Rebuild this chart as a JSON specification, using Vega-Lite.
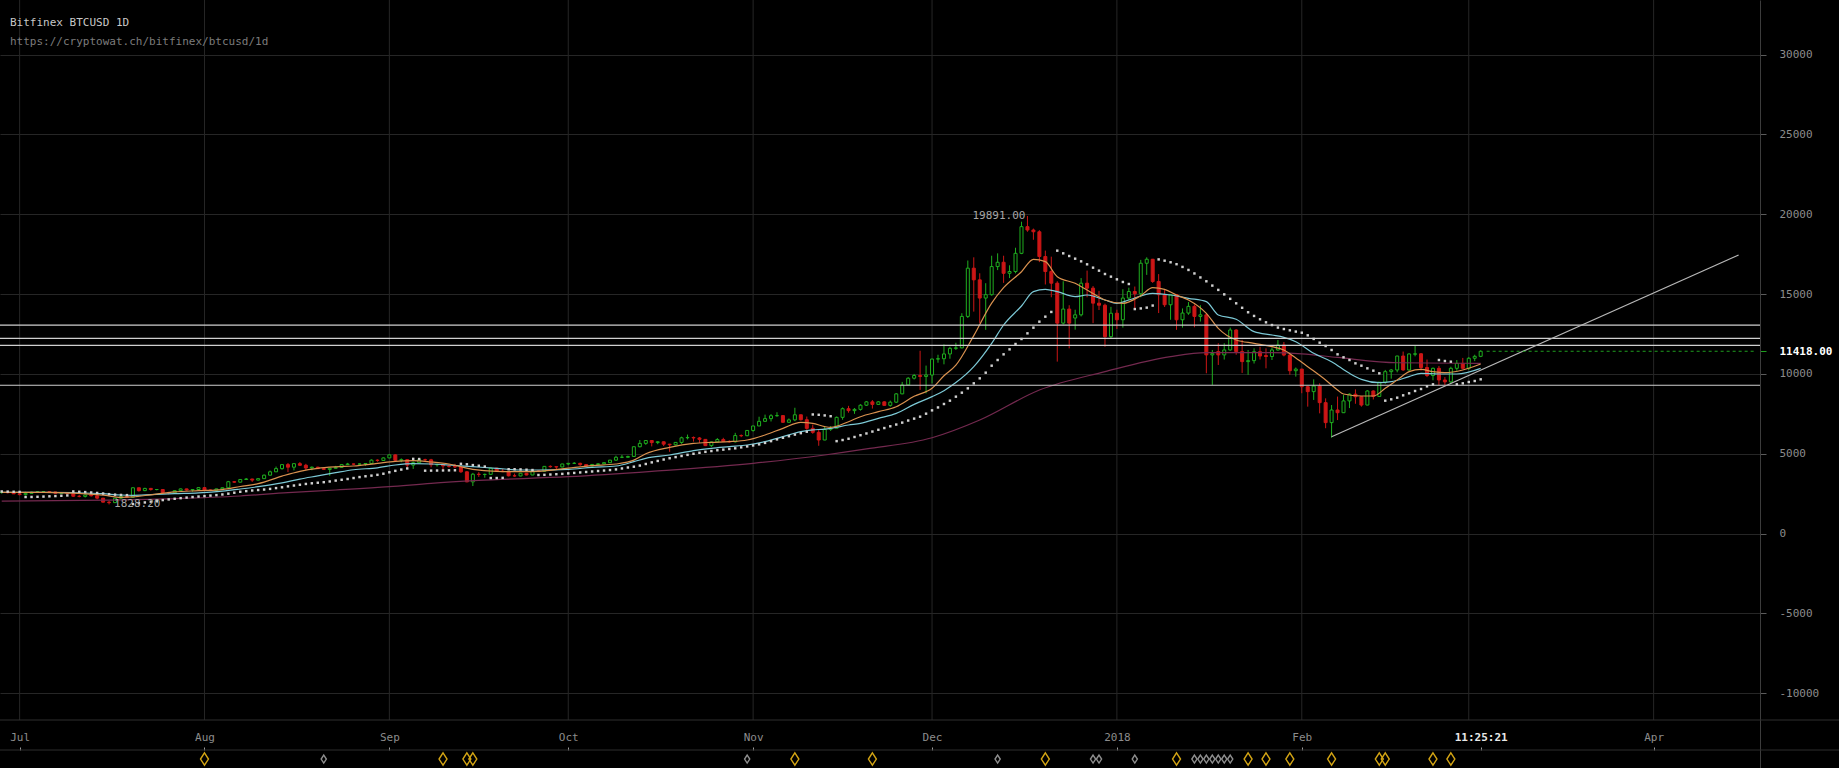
{
 "$schema": "https://vega.github.io/schema/vega-lite/v6.json",
 "width": 1760, "height": 768,
 "autosize": {"type": "none"},
 "padding": {"left": 0, "top": 0, "right": 79, "bottom": 0},
 "background": "#000000",
 "config": {"view": {"stroke": null}, "font": "DejaVu Sans Mono"},
 "title": {"text": "Bitfinex BTCUSD 1D", "subtitle": "https://cryptowat.ch/bitfinex/btcusd/1d", "anchor": "start", "frame": "group", "offset": -47, "dx": 10, "font": "DejaVu Sans Mono", "fontSize": 11, "fontWeight": "normal", "color": "#c8c8c8", "subtitleFont": "DejaVu Sans Mono", "subtitleFontSize": 11, "subtitleColor": "#7c7c7c", "subtitlePadding": 8},
 "datasets": {
  "months": [{"d":"2017-07-01"},{"d":"2017-08-01"},{"d":"2017-09-01"},{"d":"2017-10-01"},{"d":"2017-11-01"},{"d":"2017-12-01"},{"d":"2018-01-01"},{"d":"2018-02-01"},{"d":"2018-03-01"},{"d":"2018-04-01"}],
  "levels": [{"v":13050},{"v":12230},{"v":11790},{"v":9290}],
  "trend": [{"d":"2018-02-06","v":6068},{"d":"2018-04-15T06:00:00Z","v":17446}],
  "last": [{"d1":"2018-03-04","d2":"2018-04-18","v":11418}],
  "hi": [{"d":"2017-12-17","v":19891,"txt":"19891.00"}],
  "lo": [{"d":"2017-07-16","v":1828.2,"txt":"1828.20"}],
  "ev": [{"d":"2017-08-01","t":"y"},{"d":"2017-08-21","t":"g"},{"d":"2017-09-10","t":"y"},{"d":"2017-09-14","t":"y"},{"d":"2017-09-15","t":"y"},{"d":"2017-10-31","t":"g"},{"d":"2017-11-08","t":"y"},{"d":"2017-11-21","t":"y"},{"d":"2017-12-12","t":"g"},{"d":"2017-12-20","t":"y"},{"d":"2017-12-28","t":"g"},{"d":"2017-12-29","t":"g"},{"d":"2018-01-04","t":"g"},{"d":"2018-01-11","t":"y"},{"d":"2018-01-14","t":"g"},{"d":"2018-01-15","t":"g"},{"d":"2018-01-16","t":"g"},{"d":"2018-01-17","t":"g"},{"d":"2018-01-18","t":"g"},{"d":"2018-01-19","t":"g"},{"d":"2018-01-20","t":"g"},{"d":"2018-01-23","t":"y"},{"d":"2018-01-26","t":"y"},{"d":"2018-01-30","t":"y"},{"d":"2018-02-06","t":"y"},{"d":"2018-02-14","t":"y"},{"d":"2018-02-15","t":"y"},{"d":"2018-02-23","t":"y"},{"d":"2018-02-26","t":"y"}],
  "ma": [
   {"d":"2017-06-28","v":2040,"k":"m"},{"d":"2017-07-16","v":2100,"k":"m"},{"d":"2017-07-27","v":2187,"k":"m"},{"d":"2017-08-07","v":2354,"k":"m"},{"d":"2017-08-15","v":2563,"k":"m"},{"d":"2017-08-23","v":2730,"k":"m"},{"d":"2017-09-01","v":2938,"k":"m"},{"d":"2017-09-08","v":3150,"k":"m"},{"d":"2017-09-16","v":3330,"k":"m"},{"d":"2017-10-01","v":3564,"k":"m"},{"d":"2017-10-15","v":3900,"k":"m"},{"d":"2017-11-01","v":4400,"k":"m"},{"d":"2017-11-13","v":4922,"k":"m"},{"d":"2017-11-20","v":5300,"k":"m"},{"d":"2017-12-01","v":6000,"k":"m"},{"d":"2017-12-09","v":7110,"k":"m"},{"d":"2017-12-19","v":8990,"k":"m"},{"d":"2017-12-30","v":10140,"k":"m"},{"d":"2018-01-10","v":11080,"k":"m"},{"d":"2018-01-16","v":11330,"k":"m"},{"d":"2018-01-27","v":11330,"k":"m"},{"d":"2018-02-01","v":11260,"k":"m"},{"d":"2018-02-07","v":11030,"k":"m"},{"d":"2018-02-17","v":10700,"k":"m"},{"d":"2018-03-03","v":10663,"k":"m"},
   {"d":"2017-06-28","v":2585,"k":"c"},{"d":"2017-07-05","v":2585,"k":"c"},{"d":"2017-07-10","v":2563,"k":"c"},{"d":"2017-07-15","v":2500,"k":"c"},{"d":"2017-07-18","v":2417,"k":"c"},{"d":"2017-07-20","v":2400,"k":"c"},{"d":"2017-07-23","v":2440,"k":"c"},{"d":"2017-07-27","v":2500,"k":"c"},{"d":"2017-07-31","v":2550,"k":"c"},{"d":"2017-08-04","v":2660,"k":"c"},{"d":"2017-08-07","v":2792,"k":"c"},{"d":"2017-08-10","v":2938,"k":"c"},{"d":"2017-08-14","v":3176,"k":"c"},{"d":"2017-08-17","v":3415,"k":"c"},{"d":"2017-08-20","v":3613,"k":"c"},{"d":"2017-08-23","v":3814,"k":"c"},{"d":"2017-08-26","v":3999,"k":"c"},{"d":"2017-08-30","v":4120,"k":"c"},{"d":"2017-09-02","v":4296,"k":"c"},{"d":"2017-09-05","v":4379,"k":"c"},{"d":"2017-09-08","v":4358,"k":"c"},{"d":"2017-09-11","v":4296,"k":"c"},{"d":"2017-09-15","v":4191,"k":"c"},{"d":"2017-09-19","v":4087,"k":"c"},{"d":"2017-09-23","v":3982,"k":"c"},{"d":"2017-09-26","v":3982,"k":"c"},{"d":"2017-10-01","v":4024,"k":"c"},{"d":"2017-10-05","v":4149,"k":"c"},{"d":"2017-10-09","v":4233,"k":"c"},{"d":"2017-10-12","v":4504,"k":"c"},{"d":"2017-10-14","v":4713,"k":"c"},{"d":"2017-10-18","v":4922,"k":"c"},{"d":"2017-10-22","v":5193,"k":"c"},{"d":"2017-10-25","v":5340,"k":"c"},{"d":"2017-10-28","v":5445,"k":"c"},{"d":"2017-10-31","v":5549,"k":"c"},{"d":"2017-11-03","v":5758,"k":"c"},{"d":"2017-11-06","v":6071,"k":"c"},{"d":"2017-11-09","v":6384,"k":"c"},{"d":"2017-11-11","v":6500,"k":"c"},{"d":"2017-11-13","v":6540,"k":"c"},{"d":"2017-11-14","v":6590,"k":"c"},{"d":"2017-11-17","v":6799,"k":"c"},{"d":"2017-11-19","v":6904,"k":"c"},{"d":"2017-11-22","v":7217,"k":"c"},{"d":"2017-11-25","v":7530,"k":"c"},{"d":"2017-11-28","v":8094,"k":"c"},{"d":"2017-12-01","v":8575,"k":"c"},{"d":"2017-12-03","v":8950,"k":"c"},{"d":"2017-12-05","v":9457,"k":"c"},{"d":"2017-12-08","v":10458,"k":"c"},{"d":"2017-12-11","v":11915,"k":"c"},{"d":"2017-12-13","v":13063,"k":"c"},{"d":"2017-12-16","v":14253,"k":"c"},{"d":"2017-12-18","v":15150,"k":"c"},{"d":"2017-12-20","v":15296,"k":"c"},{"d":"2017-12-22","v":15150,"k":"c"},{"d":"2017-12-25","v":14837,"k":"c"},{"d":"2017-12-27","v":14941,"k":"c"},{"d":"2017-12-30","v":14628,"k":"c"},{"d":"2018-01-01","v":14420,"k":"c"},{"d":"2018-01-03","v":14628,"k":"c"},{"d":"2018-01-07","v":15045,"k":"c"},{"d":"2018-01-10","v":14941,"k":"c"},{"d":"2018-01-13","v":14733,"k":"c"},{"d":"2018-01-16","v":14524,"k":"c"},{"d":"2018-01-18","v":13689,"k":"c"},{"d":"2018-01-21","v":13418,"k":"c"},{"d":"2018-01-24","v":12645,"k":"c"},{"d":"2018-01-27","v":12436,"k":"c"},{"d":"2018-01-29","v":12290,"k":"c"},{"d":"2018-01-31","v":12018,"k":"c"},{"d":"2018-02-03","v":11288,"k":"c"},{"d":"2018-02-06","v":10766,"k":"c"},{"d":"2018-02-09","v":10035,"k":"c"},{"d":"2018-02-11","v":9660,"k":"c"},{"d":"2018-02-14","v":9452,"k":"c"},{"d":"2018-02-16","v":9515,"k":"c"},{"d":"2018-02-19","v":9828,"k":"c"},{"d":"2018-02-21","v":10035,"k":"c"},{"d":"2018-02-24","v":9994,"k":"c"},{"d":"2018-02-27","v":9994,"k":"c"},{"d":"2018-03-03","v":10349,"k":"c"},
   {"d":"2017-06-28","v":2585,"k":"o"},{"d":"2017-07-05","v":2585,"k":"o"},{"d":"2017-07-10","v":2540,"k":"o"},{"d":"2017-07-15","v":2410,"k":"o"},{"d":"2017-07-18","v":2270,"k":"o"},{"d":"2017-07-20","v":2300,"k":"o"},{"d":"2017-07-23","v":2430,"k":"o"},{"d":"2017-07-27","v":2610,"k":"o"},{"d":"2017-07-31","v":2688,"k":"o"},{"d":"2017-08-04","v":2760,"k":"o"},{"d":"2017-08-07","v":2950,"k":"o"},{"d":"2017-08-10","v":3130,"k":"o"},{"d":"2017-08-14","v":3600,"k":"o"},{"d":"2017-08-17","v":3900,"k":"o"},{"d":"2017-08-20","v":4087,"k":"o"},{"d":"2017-08-23","v":4180,"k":"o"},{"d":"2017-08-26","v":4233,"k":"o"},{"d":"2017-08-30","v":4400,"k":"o"},{"d":"2017-09-02","v":4525,"k":"o"},{"d":"2017-09-05","v":4566,"k":"o"},{"d":"2017-09-08","v":4483,"k":"o"},{"d":"2017-09-11","v":4358,"k":"o"},{"d":"2017-09-15","v":4024,"k":"o"},{"d":"2017-09-19","v":3900,"k":"o"},{"d":"2017-09-23","v":3880,"k":"o"},{"d":"2017-09-26","v":3900,"k":"o"},{"d":"2017-10-01","v":4100,"k":"o"},{"d":"2017-10-05","v":4254,"k":"o"},{"d":"2017-10-09","v":4358,"k":"o"},{"d":"2017-10-12","v":4600,"k":"o"},{"d":"2017-10-14","v":5000,"k":"o"},{"d":"2017-10-18","v":5400,"k":"o"},{"d":"2017-10-22","v":5650,"k":"o"},{"d":"2017-10-25","v":5716,"k":"o"},{"d":"2017-10-28","v":5758,"k":"o"},{"d":"2017-10-31","v":5862,"k":"o"},{"d":"2017-11-03","v":6175,"k":"o"},{"d":"2017-11-06","v":6593,"k":"o"},{"d":"2017-11-09","v":6960,"k":"o"},{"d":"2017-11-11","v":6904,"k":"o"},{"d":"2017-11-13","v":6700,"k":"o"},{"d":"2017-11-14","v":6652,"k":"o"},{"d":"2017-11-17","v":7008,"k":"o"},{"d":"2017-11-19","v":7321,"k":"o"},{"d":"2017-11-22","v":7634,"k":"o"},{"d":"2017-11-25","v":7947,"k":"o"},{"d":"2017-11-28","v":8600,"k":"o"},{"d":"2017-12-01","v":9100,"k":"o"},{"d":"2017-12-03","v":9884,"k":"o"},{"d":"2017-12-05","v":10550,"k":"o"},{"d":"2017-12-08","v":12400,"k":"o"},{"d":"2017-12-11","v":14430,"k":"o"},{"d":"2017-12-13","v":15400,"k":"o"},{"d":"2017-12-16","v":16400,"k":"o"},{"d":"2017-12-18","v":17175,"k":"o"},{"d":"2017-12-20","v":17029,"k":"o"},{"d":"2017-12-22","v":16090,"k":"o"},{"d":"2017-12-25","v":15672,"k":"o"},{"d":"2017-12-27","v":15254,"k":"o"},{"d":"2017-12-30","v":14628,"k":"o"},{"d":"2018-01-02","v":14420,"k":"o"},{"d":"2018-01-05","v":14900,"k":"o"},{"d":"2018-01-07","v":15400,"k":"o"},{"d":"2018-01-09","v":15296,"k":"o"},{"d":"2018-01-11","v":14941,"k":"o"},{"d":"2018-01-13","v":14628,"k":"o"},{"d":"2018-01-16","v":13793,"k":"o"},{"d":"2018-01-18","v":12854,"k":"o"},{"d":"2018-01-21","v":12123,"k":"o"},{"d":"2018-01-24","v":11915,"k":"o"},{"d":"2018-01-27","v":11706,"k":"o"},{"d":"2018-01-29","v":11497,"k":"o"},{"d":"2018-01-31","v":11000,"k":"o"},{"d":"2018-02-02","v":10453,"k":"o"},{"d":"2018-02-05","v":9618,"k":"o"},{"d":"2018-02-07","v":8992,"k":"o"},{"d":"2018-02-08","v":8742,"k":"o"},{"d":"2018-02-11","v":8616,"k":"o"},{"d":"2018-02-13","v":8616,"k":"o"},{"d":"2018-02-15","v":9097,"k":"o"},{"d":"2018-02-17","v":9618,"k":"o"},{"d":"2018-02-19","v":10140,"k":"o"},{"d":"2018-02-21","v":10286,"k":"o"},{"d":"2018-02-23","v":10140,"k":"o"},{"d":"2018-02-25","v":10077,"k":"o"},{"d":"2018-02-28","v":10244,"k":"o"},{"d":"2018-03-03","v":10620,"k":"o"}
  ],
  "k": [
   {"d":"2017-06-28","o":2580,"h":2610,"l":2500,"c":2590,"s":2640},
   {"d":"2017-06-29","o":2590,"h":2600,"l":2520,"c":2560,"s":2630},
   {"d":"2017-06-30","o":2560,"h":2570,"l":2480,"c":2490,"s":2620},
   {"d":"2017-07-01","o":2490,"h":2530,"l":2400,"c":2440,"s":2610},
   {"d":"2017-07-02","o":2440,"h":2620,"l":2390,"c":2520,"s":2290},
   {"d":"2017-07-03","o":2520,"h":2620,"l":2510,"c":2590,"s":2295},
   {"d":"2017-07-04","o":2590,"h":2660,"l":2580,"c":2620,"s":2305},
   {"d":"2017-07-05","o":2620,"h":2650,"l":2550,"c":2630,"s":2320},
   {"d":"2017-07-06","o":2630,"h":2640,"l":2590,"c":2610,"s":2335},
   {"d":"2017-07-07","o":2610,"h":2620,"l":2500,"c":2520,"s":2350},
   {"d":"2017-07-08","o":2520,"h":2580,"l":2480,"c":2570,"s":2370},
   {"d":"2017-07-09","o":2570,"h":2590,"l":2500,"c":2510,"s":2390},
   {"d":"2017-07-10","o":2510,"h":2530,"l":2300,"c":2340,"s":2640},
   {"d":"2017-07-11","o":2340,"h":2420,"l":2270,"c":2330,"s":2620},
   {"d":"2017-07-12","o":2330,"h":2430,"l":2260,"c":2420,"s":2600},
   {"d":"2017-07-13","o":2420,"h":2430,"l":2320,"c":2370,"s":2575},
   {"d":"2017-07-14","o":2370,"h":2380,"l":2150,"c":2220,"s":2545},
   {"d":"2017-07-15","o":2220,"h":2230,"l":1950,"c":1970,"s":2510},
   {"d":"2017-07-16","o":1970,"h":2060,"l":1828.2,"c":1940,"s":2470},
   {"d":"2017-07-17","o":1940,"h":2230,"l":1930,"c":2220,"s":2440},
   {"d":"2017-07-18","o":2220,"h":2400,"l":2150,"c":2330,"s":2420},
   {"d":"2017-07-19","o":2330,"h":2400,"l":2260,"c":2280,"s":2410},
   {"d":"2017-07-20","o":2280,"h":2900,"l":2270,"c":2870,"s":1850},
   {"d":"2017-07-21","o":2870,"h":2880,"l":2630,"c":2690,"s":1900},
   {"d":"2017-07-22","o":2690,"h":2870,"l":2660,"c":2830,"s":1950},
   {"d":"2017-07-23","o":2830,"h":2860,"l":2690,"c":2760,"s":2000},
   {"d":"2017-07-24","o":2760,"h":2790,"l":2710,"c":2760,"s":2050},
   {"d":"2017-07-25","o":2760,"h":2780,"l":2480,"c":2570,"s":2100},
   {"d":"2017-07-26","o":2570,"h":2620,"l":2460,"c":2550,"s":2140},
   {"d":"2017-07-27","o":2550,"h":2700,"l":2520,"c":2690,"s":2180},
   {"d":"2017-07-28","o":2690,"h":2820,"l":2670,"c":2800,"s":2220},
   {"d":"2017-07-29","o":2800,"h":2810,"l":2690,"c":2730,"s":2255},
   {"d":"2017-07-30","o":2730,"h":2770,"l":2620,"c":2760,"s":2290},
   {"d":"2017-07-31","o":2760,"h":2900,"l":2750,"c":2880,"s":2320},
   {"d":"2017-08-01","o":2880,"h":2920,"l":2690,"c":2730,"s":2350},
   {"d":"2017-08-02","o":2730,"h":2760,"l":2660,"c":2710,"s":2380},
   {"d":"2017-08-03","o":2710,"h":2810,"l":2700,"c":2800,"s":2410},
   {"d":"2017-08-04","o":2800,"h":2890,"l":2780,"c":2870,"s":2450},
   {"d":"2017-08-05","o":2870,"h":3300,"l":2860,"c":3250,"s":2500},
   {"d":"2017-08-06","o":3250,"h":3290,"l":3180,"c":3220,"s":2560},
   {"d":"2017-08-07","o":3220,"h":3420,"l":3200,"c":3390,"s":2620},
   {"d":"2017-08-08","o":3390,"h":3480,"l":3360,"c":3420,"s":2660},
   {"d":"2017-08-09","o":3420,"h":3430,"l":3240,"c":3350,"s":2700},
   {"d":"2017-08-10","o":3350,"h":3450,"l":3330,"c":3440,"s":2730},
   {"d":"2017-08-11","o":3440,"h":3700,"l":3430,"c":3660,"s":2760},
   {"d":"2017-08-12","o":3660,"h":3950,"l":3640,"c":3870,"s":2800},
   {"d":"2017-08-13","o":3870,"h":4200,"l":3860,"c":4070,"s":2850},
   {"d":"2017-08-14","o":4070,"h":4340,"l":4000,"c":4320,"s":2900},
   {"d":"2017-08-15","o":4320,"h":4420,"l":3850,"c":4160,"s":2960},
   {"d":"2017-08-16","o":4160,"h":4400,"l":3960,"c":4380,"s":3010},
   {"d":"2017-08-17","o":4380,"h":4480,"l":4240,"c":4280,"s":3060},
   {"d":"2017-08-18","o":4280,"h":4370,"l":3980,"c":4110,"s":3110},
   {"d":"2017-08-19","o":4110,"h":4200,"l":3970,"c":4160,"s":3150},
   {"d":"2017-08-20","o":4160,"h":4190,"l":4040,"c":4070,"s":3185},
   {"d":"2017-08-21","o":4070,"h":4100,"l":3980,"c":4020,"s":3220},
   {"d":"2017-08-22","o":4020,"h":4130,"l":3620,"c":4090,"s":3265},
   {"d":"2017-08-23","o":4090,"h":4240,"l":4080,"c":4150,"s":3320},
   {"d":"2017-08-24","o":4150,"h":4350,"l":4110,"c":4320,"s":3370},
   {"d":"2017-08-25","o":4320,"h":4430,"l":4300,"c":4360,"s":3420},
   {"d":"2017-08-26","o":4360,"h":4380,"l":4290,"c":4350,"s":3480},
   {"d":"2017-08-27","o":4350,"h":4390,"l":4330,"c":4360,"s":3540},
   {"d":"2017-08-28","o":4360,"h":4400,"l":4250,"c":4390,"s":3590},
   {"d":"2017-08-29","o":4390,"h":4650,"l":4350,"c":4600,"s":3630},
   {"d":"2017-08-30","o":4600,"h":4650,"l":4500,"c":4580,"s":3680},
   {"d":"2017-08-31","o":4580,"h":4770,"l":4570,"c":4740,"s":3750},
   {"d":"2017-09-01","o":4740,"h":4960,"l":4730,"c":4930,"s":3840},
   {"d":"2017-09-02","o":4930,"h":4960,"l":4520,"c":4590,"s":3930},
   {"d":"2017-09-03","o":4590,"h":4710,"l":4470,"c":4630,"s":4010},
   {"d":"2017-09-04","o":4630,"h":4640,"l":4130,"c":4290,"s":4080},
   {"d":"2017-09-05","o":4290,"h":4520,"l":4050,"c":4440,"s":4680},
   {"d":"2017-09-06","o":4440,"h":4680,"l":4430,"c":4630,"s":4670},
   {"d":"2017-09-07","o":4630,"h":4690,"l":4530,"c":4620,"s":3940},
   {"d":"2017-09-08","o":4620,"h":4680,"l":4150,"c":4310,"s":3945},
   {"d":"2017-09-09","o":4310,"h":4370,"l":4200,"c":4330,"s":3950},
   {"d":"2017-09-10","o":4330,"h":4350,"l":4000,"c":4240,"s":3955},
   {"d":"2017-09-11","o":4240,"h":4330,"l":4130,"c":4210,"s":3960},
   {"d":"2017-09-12","o":4210,"h":4370,"l":4100,"c":4170,"s":3965},
   {"d":"2017-09-13","o":4170,"h":4180,"l":3800,"c":3870,"s":4370},
   {"d":"2017-09-14","o":3870,"h":3910,"l":3220,"c":3240,"s":4340},
   {"d":"2017-09-15","o":3240,"h":3800,"l":2980,"c":3720,"s":4290},
   {"d":"2017-09-16","o":3720,"h":3850,"l":3550,"c":3700,"s":4250},
   {"d":"2017-09-17","o":3700,"h":3760,"l":3500,"c":3710,"s":4200},
   {"d":"2017-09-18","o":3710,"h":4120,"l":3700,"c":4100,"s":3480},
   {"d":"2017-09-19","o":4100,"h":4120,"l":3860,"c":3910,"s":3480},
   {"d":"2017-09-20","o":3910,"h":4050,"l":3850,"c":3880,"s":3490},
   {"d":"2017-09-21","o":3880,"h":3890,"l":3580,"c":3620,"s":4030},
   {"d":"2017-09-22","o":3620,"h":3760,"l":3560,"c":3610,"s":4030},
   {"d":"2017-09-23","o":3610,"h":3800,"l":3590,"c":3780,"s":4020},
   {"d":"2017-09-24","o":3780,"h":3790,"l":3650,"c":3670,"s":4000},
   {"d":"2017-09-25","o":3670,"h":3950,"l":3660,"c":3930,"s":3980},
   {"d":"2017-09-26","o":3930,"h":3970,"l":3860,"c":3900,"s":3670},
   {"d":"2017-09-27","o":3900,"h":4230,"l":3890,"c":4210,"s":3680},
   {"d":"2017-09-28","o":4210,"h":4270,"l":4130,"c":4190,"s":3700},
   {"d":"2017-09-29","o":4190,"h":4210,"l":4040,"c":4170,"s":3720},
   {"d":"2017-09-30","o":4170,"h":4370,"l":4160,"c":4360,"s":3740},
   {"d":"2017-10-01","o":4360,"h":4410,"l":4280,"c":4400,"s":3770},
   {"d":"2017-10-02","o":4400,"h":4480,"l":4360,"c":4400,"s":3800},
   {"d":"2017-10-03","o":4400,"h":4440,"l":4240,"c":4320,"s":3830},
   {"d":"2017-10-04","o":4320,"h":4340,"l":4200,"c":4230,"s":3860},
   {"d":"2017-10-05","o":4230,"h":4360,"l":4210,"c":4330,"s":3890},
   {"d":"2017-10-06","o":4330,"h":4420,"l":4320,"c":4370,"s":3920},
   {"d":"2017-10-07","o":4370,"h":4470,"l":4340,"c":4440,"s":3950},
   {"d":"2017-10-08","o":4440,"h":4620,"l":4430,"c":4600,"s":3980},
   {"d":"2017-10-09","o":4600,"h":4880,"l":4560,"c":4780,"s":4020},
   {"d":"2017-10-10","o":4780,"h":4930,"l":4730,"c":4780,"s":4080},
   {"d":"2017-10-11","o":4780,"h":4880,"l":4740,"c":4830,"s":4140},
   {"d":"2017-10-12","o":4830,"h":5450,"l":4820,"c":5440,"s":4190},
   {"d":"2017-10-13","o":5440,"h":5860,"l":5400,"c":5650,"s":4260},
   {"d":"2017-10-14","o":5650,"h":5850,"l":5560,"c":5830,"s":4360},
   {"d":"2017-10-15","o":5830,"h":5860,"l":5460,"c":5700,"s":4460},
   {"d":"2017-10-16","o":5700,"h":5790,"l":5600,"c":5750,"s":4550},
   {"d":"2017-10-17","o":5750,"h":5770,"l":5480,"c":5600,"s":4640},
   {"d":"2017-10-18","o":5600,"h":5620,"l":5120,"c":5560,"s":4720},
   {"d":"2017-10-19","o":5560,"h":5730,"l":5520,"c":5710,"s":4790},
   {"d":"2017-10-20","o":5710,"h":6070,"l":5620,"c":6000,"s":4860},
   {"d":"2017-10-21","o":6000,"h":6200,"l":5900,"c":6020,"s":4930},
   {"d":"2017-10-22","o":6020,"h":6080,"l":5760,"c":5990,"s":5000},
   {"d":"2017-10-23","o":5990,"h":6050,"l":5680,"c":5900,"s":5060},
   {"d":"2017-10-24","o":5900,"h":5910,"l":5480,"c":5510,"s":5120},
   {"d":"2017-10-25","o":5510,"h":5760,"l":5420,"c":5740,"s":5170},
   {"d":"2017-10-26","o":5740,"h":5980,"l":5710,"c":5890,"s":5220},
   {"d":"2017-10-27","o":5890,"h":6000,"l":5740,"c":5770,"s":5260},
   {"d":"2017-10-28","o":5770,"h":5850,"l":5690,"c":5750,"s":5300},
   {"d":"2017-10-29","o":5750,"h":6310,"l":5700,"c":6140,"s":5340},
   {"d":"2017-10-30","o":6140,"h":6210,"l":6040,"c":6130,"s":5400},
   {"d":"2017-10-31","o":6130,"h":6470,"l":6100,"c":6460,"s":5460},
   {"d":"2017-11-01","o":6460,"h":6750,"l":6380,"c":6740,"s":5520},
   {"d":"2017-11-02","o":6740,"h":7320,"l":6740,"c":7030,"s":5590},
   {"d":"2017-11-03","o":7030,"h":7450,"l":7000,"c":7200,"s":5680},
   {"d":"2017-11-04","o":7200,"h":7480,"l":7020,"c":7380,"s":5790},
   {"d":"2017-11-05","o":7380,"h":7600,"l":7320,"c":7390,"s":5900},
   {"d":"2017-11-06","o":7390,"h":7400,"l":6950,"c":6970,"s":6000},
   {"d":"2017-11-07","o":6970,"h":7210,"l":6950,"c":7120,"s":6100},
   {"d":"2017-11-08","o":7120,"h":7880,"l":7040,"c":7440,"s":6200},
   {"d":"2017-11-09","o":7440,"h":7450,"l":7080,"c":7130,"s":6290},
   {"d":"2017-11-10","o":7130,"h":7330,"l":6500,"c":6590,"s":6380},
   {"d":"2017-11-11","o":6590,"h":6830,"l":6250,"c":6340,"s":7460},
   {"d":"2017-11-12","o":6340,"h":6500,"l":5500,"c":5860,"s":7440},
   {"d":"2017-11-13","o":5860,"h":6720,"l":5850,"c":6530,"s":7400},
   {"d":"2017-11-14","o":6530,"h":6730,"l":6430,"c":6600,"s":7350},
   {"d":"2017-11-15","o":6600,"h":7330,"l":6600,"c":7280,"s":5790},
   {"d":"2017-11-16","o":7280,"h":7900,"l":7130,"c":7820,"s":5860},
   {"d":"2017-11-17","o":7820,"h":8000,"l":7570,"c":7700,"s":5940},
   {"d":"2017-11-18","o":7700,"h":7860,"l":7500,"c":7780,"s":6050},
   {"d":"2017-11-19","o":7780,"h":8100,"l":7700,"c":8040,"s":6160},
   {"d":"2017-11-20","o":8040,"h":8300,"l":7990,"c":8250,"s":6270},
   {"d":"2017-11-21","o":8250,"h":8360,"l":7830,"c":8090,"s":6390},
   {"d":"2017-11-22","o":8090,"h":8300,"l":8090,"c":8250,"s":6500},
   {"d":"2017-11-23","o":8250,"h":8280,"l":8000,"c":8030,"s":6610},
   {"d":"2017-11-24","o":8030,"h":8330,"l":7950,"c":8230,"s":6720},
   {"d":"2017-11-25","o":8230,"h":8800,"l":8180,"c":8750,"s":6830},
   {"d":"2017-11-26","o":8750,"h":9500,"l":8730,"c":9310,"s":6950},
   {"d":"2017-11-27","o":9310,"h":9800,"l":9310,"c":9730,"s":7080},
   {"d":"2017-11-28","o":9730,"h":10000,"l":9650,"c":9900,"s":7200},
   {"d":"2017-11-29","o":9900,"h":11450,"l":9000,"c":9840,"s":7321},
   {"d":"2017-11-30","o":9840,"h":10520,"l":8780,"c":9930,"s":7509},
   {"d":"2017-12-01","o":9930,"h":10950,"l":9400,"c":10930,"s":7717},
   {"d":"2017-12-02","o":10930,"h":11200,"l":10700,"c":10950,"s":7900},
   {"d":"2017-12-03","o":10950,"h":11850,"l":10600,"c":11250,"s":8116},
   {"d":"2017-12-04","o":11250,"h":11700,"l":10950,"c":11600,"s":8324},
   {"d":"2017-12-05","o":11600,"h":11950,"l":11500,"c":11630,"s":8575},
   {"d":"2017-12-06","o":11630,"h":13800,"l":11600,"c":13600,"s":8825},
   {"d":"2017-12-07","o":13600,"h":17100,"l":13500,"c":16620,"s":9096},
   {"d":"2017-12-08","o":16620,"h":17300,"l":13900,"c":15890,"s":9409},
   {"d":"2017-12-09","o":15890,"h":16300,"l":13180,"c":14750,"s":9722},
   {"d":"2017-12-10","o":14750,"h":15680,"l":12760,"c":14960,"s":10077},
   {"d":"2017-12-11","o":14960,"h":17400,"l":14900,"c":16720,"s":10515},
   {"d":"2017-12-12","o":16720,"h":17550,"l":16500,"c":16990,"s":10870},
   {"d":"2017-12-13","o":16990,"h":17400,"l":15700,"c":16300,"s":11225},
   {"d":"2017-12-14","o":16300,"h":16800,"l":16000,"c":16410,"s":11538},
   {"d":"2017-12-15","o":16410,"h":17900,"l":16300,"c":17550,"s":11872},
   {"d":"2017-12-16","o":17550,"h":19530,"l":17500,"c":19220,"s":12185},
   {"d":"2017-12-17","o":19220,"h":19891,"l":18900,"c":19010,"s":12540},
   {"d":"2017-12-18","o":19010,"h":19100,"l":18400,"c":18900,"s":12895},
   {"d":"2017-12-19","o":18900,"h":19000,"l":17000,"c":17350,"s":13270},
   {"d":"2017-12-20","o":17350,"h":17720,"l":15600,"c":16410,"s":13584},
   {"d":"2017-12-21","o":16410,"h":17340,"l":14800,"c":15680,"s":13880},
   {"d":"2017-12-22","o":15680,"h":15800,"l":10770,"c":13180,"s":17717},
   {"d":"2017-12-23","o":13180,"h":15800,"l":13100,"c":14060,"s":17550},
   {"d":"2017-12-24","o":14060,"h":14300,"l":11600,"c":13180,"s":17383},
   {"d":"2017-12-25","o":13500,"h":14020,"l":12770,"c":13700,"s":17216},
   {"d":"2017-12-26","o":13700,"h":16000,"l":13600,"c":15680,"s":17049},
   {"d":"2017-12-27","o":15680,"h":16470,"l":14800,"c":15370,"s":16862},
   {"d":"2017-12-28","o":15370,"h":15500,"l":13180,"c":14430,"s":16653},
   {"d":"2017-12-29","o":14430,"h":15200,"l":14000,"c":14300,"s":16465},
   {"d":"2017-12-30","o":14300,"h":14400,"l":11700,"c":12330,"s":16256},
   {"d":"2017-12-31","o":12330,"h":14200,"l":12200,"c":13800,"s":16090},
   {"d":"2018-01-01","o":13800,"h":14020,"l":12810,"c":13390,"s":15922},
   {"d":"2018-01-02","o":13390,"h":15300,"l":12900,"c":14750,"s":15756},
   {"d":"2018-01-03","o":14750,"h":15400,"l":14600,"c":15160,"s":15630},
   {"d":"2018-01-04","o":15160,"h":15470,"l":14120,"c":15020,"s":14060},
   {"d":"2018-01-05","o":15020,"h":17140,"l":14800,"c":16930,"s":14100},
   {"d":"2018-01-06","o":16930,"h":17300,"l":16200,"c":17180,"s":14150},
   {"d":"2018-01-07","o":17180,"h":17200,"l":15700,"c":15790,"s":14280},
   {"d":"2018-01-08","o":15790,"h":16250,"l":13810,"c":14960,"s":17170},
   {"d":"2018-01-09","o":14960,"h":15300,"l":14190,"c":14330,"s":17090},
   {"d":"2018-01-10","o":14330,"h":14960,"l":13390,"c":14960,"s":16990},
   {"d":"2018-01-11","o":14960,"h":15000,"l":12760,"c":13390,"s":16870},
   {"d":"2018-01-12","o":13390,"h":14100,"l":12900,"c":13810,"s":16700},
   {"d":"2018-01-13","o":13810,"h":14500,"l":13700,"c":14230,"s":16510},
   {"d":"2018-01-14","o":14230,"h":14350,"l":12920,"c":13600,"s":16290},
   {"d":"2018-01-15","o":13600,"h":14300,"l":13280,"c":13700,"s":16040},
   {"d":"2018-01-16","o":13700,"h":13750,"l":10040,"c":11190,"s":15800},
   {"d":"2018-01-17","o":11190,"h":11500,"l":9310,"c":11270,"s":15530},
   {"d":"2018-01-18","o":11400,"h":11920,"l":10560,"c":11190,"s":15260},
   {"d":"2018-01-19","o":11190,"h":11920,"l":10900,"c":11500,"s":14980},
   {"d":"2018-01-20","o":11500,"h":12900,"l":11450,"c":12750,"s":14700},
   {"d":"2018-01-21","o":12750,"h":12800,"l":11200,"c":11400,"s":14420},
   {"d":"2018-01-22","o":11400,"h":12130,"l":10060,"c":10770,"s":14140},
   {"d":"2018-01-23","o":10770,"h":11500,"l":9940,"c":10830,"s":13860},
   {"d":"2018-01-24","o":10830,"h":11600,"l":10650,"c":11390,"s":13630},
   {"d":"2018-01-25","o":11390,"h":11700,"l":10900,"c":11120,"s":13420},
   {"d":"2018-01-26","o":11150,"h":11600,"l":10350,"c":11090,"s":13230},
   {"d":"2018-01-27","o":11090,"h":11650,"l":10870,"c":11500,"s":13060},
   {"d":"2018-01-28","o":11500,"h":12120,"l":11450,"c":11810,"s":12900},
   {"d":"2018-01-29","o":11810,"h":12000,"l":11100,"c":11180,"s":12810},
   {"d":"2018-01-30","o":11180,"h":11290,"l":9950,"c":10200,"s":12730},
   {"d":"2018-01-31","o":10200,"h":10400,"l":9830,"c":10300,"s":12650},
   {"d":"2018-02-01","o":10300,"h":10320,"l":8790,"c":9200,"s":12580},
   {"d":"2018-02-02","o":9200,"h":9250,"l":7950,"c":8890,"s":12415},
   {"d":"2018-02-03","o":8890,"h":9660,"l":8370,"c":9240,"s":12190},
   {"d":"2018-02-04","o":9240,"h":9410,"l":7530,"c":8200,"s":11956},
   {"d":"2018-02-05","o":8200,"h":8470,"l":6600,"c":6950,"s":11747},
   {"d":"2018-02-06","o":6950,"h":8050,"l":6000,"c":7740,"s":11497},
   {"d":"2018-02-07","o":7740,"h":8580,"l":7110,"c":7570,"s":11226},
   {"d":"2018-02-08","o":7570,"h":8680,"l":7550,"c":8310,"s":11038},
   {"d":"2018-02-09","o":8310,"h":8780,"l":7860,"c":8730,"s":10870},
   {"d":"2018-02-10","o":8730,"h":9030,"l":8130,"c":8570,"s":10662},
   {"d":"2018-02-11","o":8570,"h":8580,"l":7950,"c":8050,"s":10516},
   {"d":"2018-02-12","o":8050,"h":8980,"l":8040,"c":8930,"s":10349},
   {"d":"2018-02-13","o":8930,"h":8970,"l":8400,"c":8590,"s":10203},
   {"d":"2018-02-14","o":8590,"h":9500,"l":8560,"c":9480,"s":10035},
   {"d":"2018-02-15","o":9480,"h":10250,"l":9380,"c":10140,"s":8324},
   {"d":"2018-02-16","o":10140,"h":10300,"l":9700,"c":10245,"s":8408},
   {"d":"2018-02-17","o":10245,"h":11130,"l":10100,"c":11120,"s":8512},
   {"d":"2018-02-18","o":11120,"h":11400,"l":10200,"c":10245,"s":8658},
   {"d":"2018-02-19","o":10245,"h":11280,"l":10200,"c":11250,"s":8784},
   {"d":"2018-02-20","o":11230,"h":11760,"l":11100,"c":11260,"s":8930},
   {"d":"2018-02-21","o":11260,"h":11300,"l":10200,"c":10400,"s":9055},
   {"d":"2018-02-22","o":10400,"h":10900,"l":9800,"c":9900,"s":9222},
   {"d":"2018-02-23","o":9900,"h":10400,"l":9600,"c":10350,"s":9347},
   {"d":"2018-02-24","o":10350,"h":10500,"l":9300,"c":9620,"s":10870},
   {"d":"2018-02-25","o":9620,"h":9800,"l":9300,"c":9500,"s":10808},
   {"d":"2018-02-26","o":9500,"h":10450,"l":9400,"c":10350,"s":10766},
   {"d":"2018-02-27","o":10350,"h":10870,"l":10200,"c":10660,"s":9347},
   {"d":"2018-02-28","o":10660,"h":11000,"l":10300,"c":10350,"s":9410},
   {"d":"2018-03-01","o":10350,"h":11050,"l":10250,"c":10980,"s":9493},
   {"d":"2018-03-02","o":10980,"h":11200,"l":10800,"c":11100,"s":9556},
   {"d":"2018-03-03","o":11100,"h":11480,"l":11050,"c":11418,"s":9660}
  ]
 },
 "layer": [
  {
   "data": {"name": "months"},
   "mark": {"type": "rule", "color": "#262626", "strokeWidth": 1},
   "encoding": {
    "x": {"field": "d", "type": "temporal", "scale": {"type": "utc", "domain": [1498655433600, 1524009600000]}, "title": null,
     "axis": {"orient": "top", "offset": -750, "grid": false, "domain": false, "ticks": true, "tickSize": 3, "tickColor": "#9a9a9a",
      "values": [{"year": 2017, "month": 7, "date": 1, "utc": true}, {"year": 2017, "month": 8, "date": 1, "utc": true}, {"year": 2017, "month": 9, "date": 1, "utc": true}, {"year": 2017, "month": 10, "date": 1, "utc": true}, {"year": 2017, "month": 11, "date": 1, "utc": true}, {"year": 2017, "month": 12, "date": 1, "utc": true}, {"year": 2018, "month": 1, "date": 1, "utc": true}, {"year": 2018, "month": 2, "date": 1, "utc": true}, {"year": 2018, "month": 3, "date": 3, "utc": true}, {"year": 2018, "month": 4, "date": 1, "utc": true}],
      "labelExpr": "utcmonth(datum.value) == 0 ? '2018' : (utcmonth(datum.value) == 2 ? '11:25:21' : utcFormat(datum.value, '%b'))",
      "labelFont": "DejaVu Sans Mono", "labelFontSize": 11, "labelPadding": 5, "labelFlush": false, "labelOverlap": false,
      "labelColor": {"condition": {"test": "utcmonth(datum.value) == 2", "value": "#e8e8e8"}, "value": "#8c8c8c"},
      "labelFontWeight": {"condition": {"test": "utcmonth(datum.value) == 2", "value": "bold"}, "value": "normal"}}},
    "y": {"datum": 33413, "type": "quantitative", "scale": {"domain": [-14677, 33413], "nice": false, "zero": false}, "title": null,
     "axis": {"orient": "right", "values": [-10000, -5000, 0, 5000, 10000, 11418, 15000, 20000, 25000, 30000],
      "labelExpr": "datum.value == 11418 ? '11418.00' : '' + datum.value",
      "grid": true, "gridColor": {"condition": {"test": "datum.value == 11418", "value": "rgba(0,0,0,0)"}, "value": "#262626"},
      "domain": true, "domainColor": "#3c3c3c", "tickSize": 6,
      "tickColor": {"condition": {"test": "datum.value == 11418", "value": "#1f9f1f"}, "value": "#5c5c5c"},
      "labelPadding": 13, "labelFont": "DejaVu Sans Mono", "labelFontSize": 11, "labelAlign": "left", "labelBaseline": "middle", "labelFlush": false, "labelOverlap": false,
      "labelColor": {"condition": {"test": "datum.value == 11418", "value": "#ffffff"}, "value": "#8c8c8c"},
      "labelFontWeight": {"condition": {"test": "datum.value == 11418", "value": "bold"}, "value": "normal"}}},
    "y2": {"datum": -11672}
   }
  },
  {
   "data": {"values": [{"v": -11672}, {"v": -13551}]},
   "mark": {"type": "rule", "color": "#2e2e2e", "strokeWidth": 1},
   "encoding": {
    "x": {"datum": {"year": 2017, "month": 6, "date": 1, "utc": true}, "type": "temporal", "title": null},
    "x2": {"datum": {"year": 2018, "month": 6, "date": 1, "utc": true}},
    "y": {"field": "v", "type": "quantitative", "title": null}
   }
  },
  {
   "data": {"name": "k"},
   "mark": {"type": "rule", "strokeWidth": 1},
   "encoding": {
    "x": {"field": "d", "type": "temporal", "title": null},
    "y": {"field": "l", "type": "quantitative", "title": null},
    "y2": {"field": "h"},
    "color": {"condition": {"test": "datum.c >= datum.o", "value": "#1fae1f"}, "value": "#cc1616"}
   }
  },
  {
   "data": {"name": "k"},
   "mark": {"type": "bar", "width": 3, "strokeWidth": 1},
   "encoding": {
    "x": {"field": "d", "type": "temporal", "title": null},
    "y": {"field": "o", "type": "quantitative", "title": null},
    "y2": {"field": "c"},
    "fill": {"condition": {"test": "datum.c >= datum.o", "value": "#000000"}, "value": "#cc1616"},
    "stroke": {"condition": {"test": "datum.c >= datum.o", "value": "#1fae1f"}, "value": "#cc1616"}
   }
  },
  {
   "data": {"name": "ma"},
   "mark": {"type": "line", "strokeWidth": 1.2, "interpolate": "monotone"},
   "encoding": {
    "x": {"field": "d", "type": "temporal", "title": null},
    "y": {"field": "v", "type": "quantitative", "title": null},
    "color": {"field": "k", "type": "nominal", "scale": {"domain": ["m", "c", "o"], "range": ["#74294f", "#7cc9d6", "#d9914f"]}, "legend": null}
   }
  },
  {
   "data": {"name": "k"},
   "mark": {"type": "point", "shape": "square", "size": 6, "filled": true, "color": "#d0d0d0", "opacity": 1},
   "encoding": {
    "x": {"field": "d", "type": "temporal", "title": null},
    "y": {"field": "s", "type": "quantitative", "title": null}
   }
  },
  {
   "data": {"name": "levels"},
   "mark": {"type": "rule", "color": "#cfcfcf", "strokeWidth": 1.2},
   "encoding": {
    "y": {"field": "v", "type": "quantitative", "title": null}
   }
  },
  {
   "data": {"name": "trend"},
   "mark": {"type": "line", "color": "#b8b8b8", "strokeWidth": 1.2},
   "encoding": {
    "x": {"field": "d", "type": "temporal", "title": null},
    "y": {"field": "v", "type": "quantitative", "title": null}
   }
  },
  {
   "data": {"name": "last"},
   "mark": {"type": "rule", "color": "#1f9f1f", "strokeWidth": 1, "strokeDash": [3, 3]},
   "encoding": {
    "x": {"field": "d1", "type": "temporal", "title": null},
    "x2": {"field": "d2"},
    "y": {"field": "v", "type": "quantitative", "title": null}
   }
  },
  {
   "data": {"name": "hi"},
   "mark": {"type": "text", "align": "right", "baseline": "middle", "dx": -2, "font": "DejaVu Sans Mono", "fontSize": 11, "color": "#a6a6a6"},
   "encoding": {
    "x": {"field": "d", "type": "temporal", "title": null},
    "y": {"field": "v", "type": "quantitative", "title": null},
    "text": {"field": "txt"}
   }
  },
  {
   "data": {"name": "lo"},
   "mark": {"type": "text", "align": "left", "baseline": "middle", "dx": 5, "font": "DejaVu Sans Mono", "fontSize": 11, "color": "#a6a6a6"},
   "encoding": {
    "x": {"field": "d", "type": "temporal", "title": null},
    "y": {"field": "v", "type": "quantitative", "title": null},
    "text": {"field": "txt"}
   }
  },
  {
   "data": {"name": "ev"},
   "mark": {"type": "point", "shape": "M0,-1L0.65,0L0,1L-0.65,0Z", "filled": false, "strokeWidth": 1.4, "opacity": 1},
   "encoding": {
    "x": {"field": "d", "type": "temporal", "title": null},
    "y": {"datum": -14115, "type": "quantitative"},
    "color": {"condition": {"test": "datum.t == 'y'", "value": "#d4a514"}, "value": "#8f8f8f"},
    "size": {"condition": {"test": "datum.t == 'y'", "value": 150}, "value": 64}
   }
  }
 ]
}
